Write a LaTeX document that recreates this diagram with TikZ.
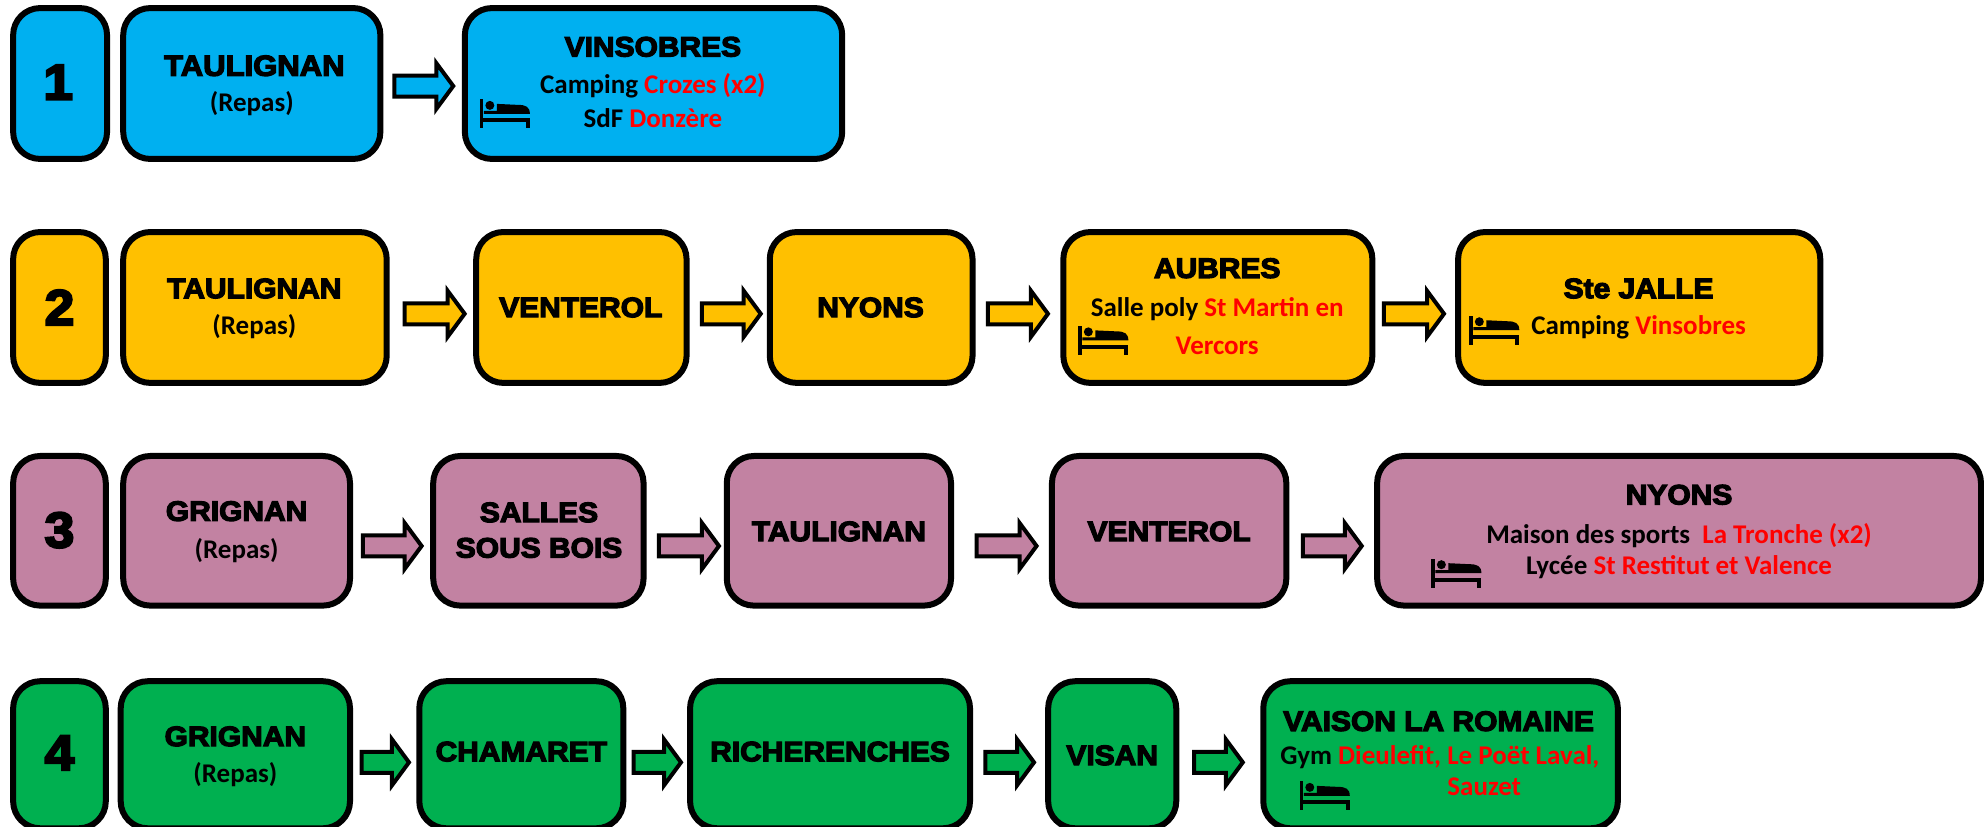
\documentclass[tikz,border=0pt]{standalone}
\usepackage{fontspec}
\setmainfont{Carlito}
\newfontfamily\blackfont[BoldFont={Liberation Sans Bold},BoldFeatures={FakeBold=4.5,FakeStretch=1.07}]{Liberation Sans}
\usetikzlibrary{calc}
\definecolor{cblue}{HTML}{00B0F0}
\definecolor{corange}{HTML}{FFC000}
\definecolor{cmauve}{HTML}{C282A2}
\definecolor{cgreen}{HTML}{00B050}
\colorlet{cred}{red}
\newcommand{\rd}[1]{\textcolor{cred}{#1}}
\def\lw{6}
\tikzset{
  boxnode/.style={draw=black,line width=\lw pt,rounded corners=27pt,inner sep=0pt,outer sep=.5*\lw pt},
  ttl/.style={font=\blackfont\bfseries\fontsize{28}{30}\selectfont,inner sep=0pt,align=center},
  ttlbig/.style={font=\blackfont\bfseries\fontsize{29}{30}\selectfont,inner sep=0pt,align=center},
  numtxt/.style={font=\blackfont\bfseries\fontsize{50}{54}\selectfont,inner sep=0pt},
  body/.style={font=\bfseries\fontsize{27}{30}\selectfont,inner sep=0pt,align=center},
  blockarrow/.style={draw=black,line width=4pt,miter limit=10}
}
% \bx{name}{x1}{x2}{y1}{y2}{colour}: box given by its outer edges (reference coordinates)
\newcommand{\bx}[6]{%
  \pgfmathsetmacro{\bw}{(#3-#2)*1.2653-\lw+2.5}%
  \pgfmathsetmacro{\bh}{(#5-#4)*1.2653-\lw+2.5}%
  \node[boxnode,fill=#6,minimum width=\bw pt,minimum height=\bh pt] (#1) at ({(#2+#3)/2},{(#4+#5)/2}) {};}
% \barrow{from}{to}{gap at from}{gap at to}{dy}{colour}
\newcommand{\barrow}[6]{%
  \draw[blockarrow,fill=#6] let \p1=($(#1.east)+(#3,#5)$),\p2=($(#2.west)+(-#4,#5)$) in
    (\x1+1pt,\y1-10.5pt) -- (\x2-18pt,\y1-10.5pt) -- (\x2-18pt,\y1-23pt) -- (\x2-1pt,\y1)
    -- (\x2-18pt,\y1+23pt) -- (\x2-18pt,\y1+10.5pt) -- (\x1+1pt,\y1+10.5pt) -- cycle;}
% \bed{x}{y}: bed icon centred at (x,y)
\newcommand{\bed}[2]{%
  \begin{scope}[shift={(#1,#2)},x=1pt,y=-1pt]
    \fill[black] (-25,-14.5) rectangle (-21.5,14.5);
    \fill[black] (21,4.5) rectangle (25,14.5);
    \fill[black] (-21.5,4.5) rectangle (25,8.5);
    \fill[black] (-8,-10) -- (13,-9) .. controls (21,-9) and (25,-7) .. (25,0) -- (-21,0) -- (-21,-3) -- (-8,-3) -- cycle;
    \fill[black] (-15,-8.5) circle (4.5pt);
  \end{scope}}
\begin{document}
\begin{tikzpicture}[x=1.2653pt,y=-1.2653pt]
\useasboundingbox (0,0) rectangle (1568,653.6);
% Row 1
\bx{na}{9}{86}{5}{127}{cblue}
\bx{a1}{96}{302}{5}{127}{cblue}
\bx{a2}{366}{667}{5}{127}{cblue}
\barrow{a1}{a2}{8}{6}{2}{cblue}
\node[numtxt] (ntxta) at (46,65) {1};
\node[ttlbig] (ta1) at (201,52) {TAULIGNAN};
\node[body] (sa1) at (199,82) {(Repas)};
\node[ttl] (ta2) at (516,37) {VINSOBRES};
\node[body] (sa2) at (516,68) {Camping \rd{Crozes (x2)}};
\node[body] (sa3) at (516,93) {SdF \rd{Donzère}};
\bed{399}{90}
% Row 2
\bx{nb}{9}{85}{182}{304}{corange}
\bx{b1}{96}{307}{182}{304}{corange}
\bx{b2}{375}{544}{182}{304}{corange}
\bx{b3}{607}{770}{182}{304}{corange}
\bx{b4}{839}{1086}{182}{304}{corange}
\bx{b5}{1151}{1440}{182}{304}{corange}
\barrow{b1}{b2}{11}{6}{5}{corange}
\barrow{b2}{b3}{9}{4}{5}{corange}
\barrow{b3}{b4}{9}{9}{5}{corange}
\barrow{b4}{b5}{6}{8}{5}{corange}
\node[numtxt] (ntxtb) at (47,243) {2};
\node[ttl] (tb1) at (201,228) {TAULIGNAN};
\node[body] (sb1) at (201,258) {(Repas)};
\node[ttl] (tb2) at (459,243) {VENTEROL};
\node[ttl] (tb3) at (688,243) {NYONS};
\node[ttl] (tb4) at (962,212) {AUBRES};
\node[body] (sb4) at (962,244) {Salle poly \rd{St Martin en}};
\node[body] (sb5) at (962,273) {\rd{Vercors}};
\node[ttl] (tb5) at (1295,228) {Ste JALLE};
\node[body] (sb6) at (1295,259) {Camping \rd{Vinsobres}};
\bed{872}{269}
\bed{1181}{261}
% Row 3
\bx{nc}{9}{85}{359}{480}{cmauve}
\bx{c1}{96}{278}{359}{480}{cmauve}
\bx{c2}{341}{510}{359}{480}{cmauve}
\bx{c3}{573}{753}{359}{480}{cmauve}
\bx{c4}{830}{1018}{359}{480}{cmauve}
\bx{c5}{1087}{1567}{359}{480}{cmauve}
\barrow{c1}{c2}{7}{6}{12}{cmauve}
\barrow{c2}{c3}{9}{3}{12}{cmauve}
\barrow{c3}{c4}{17}{9}{12}{cmauve}
\barrow{c4}{c5}{10}{9}{12}{cmauve}
\node[numtxt] (ntxtc) at (47,419) {3};
\node[ttl] (tc1) at (187,404) {GRIGNAN};
\node[body] (sc1) at (187,435) {(Repas)};
\node[ttl] (tc2) at (426,405) {SALLES};
\node[ttl] (tc2b) at (426,433) {SOUS BOIS};
\node[ttl] (tc3) at (663,420) {TAULIGNAN};
\node[ttl] (tc4) at (924,420) {VENTEROL};
\node[ttl] (tc5) at (1327,391) {NYONS};
\node[body] (sc5) at (1327,423) {Maison des sports\ \ \rd{La Tronche (x2)}};
\node[body] (sc6) at (1327,448) {Lycée \rd{St Restitut et Valence}};
\bed{1151}{453}
% Row 4
\bx{nd}{9}{85}{537}{656}{cgreen}
\bx{d1}{94}{278}{537}{656}{cgreen}
\bx{d2}{330}{494}{537}{656}{cgreen}
\bx{d3}{544}{768}{537}{656}{cgreen}
\bx{d4}{827}{931}{537}{656}{cgreen}
\bx{d5}{997}{1280}{537}{656}{cgreen}
\barrow{d1}{d2}{6}{5}{6}{cgreen}
\barrow{d2}{d3}{5}{4}{6}{cgreen}
\barrow{d3}{d4}{9}{8}{6}{cgreen}
\barrow{d4}{d5}{11}{13}{6}{cgreen}
\node[numtxt] (ntxtd) at (47,595) {4};
\node[ttl] (td1) at (186,582) {GRIGNAN};
\node[body] (sd1) at (186,612) {(Repas)};
\node[ttl] (td2) at (412,594) {CHAMARET};
\node[ttl] (td3) at (656,594) {RICHERENCHES};
\node[ttl] (td4) at (879,597) {VISAN};
\node[ttl] (td5) at (1137,570) {VAISON LA ROMAINE};
\node[body] (sd5) at (1138,598) {Gym \rd{Dieulefit, Le Poët Laval,}};
\node[body] (sd6) at (1173,622) {\rd{Sauzet}};
\bed{1047}{629}
\end{tikzpicture}
\end{document}
